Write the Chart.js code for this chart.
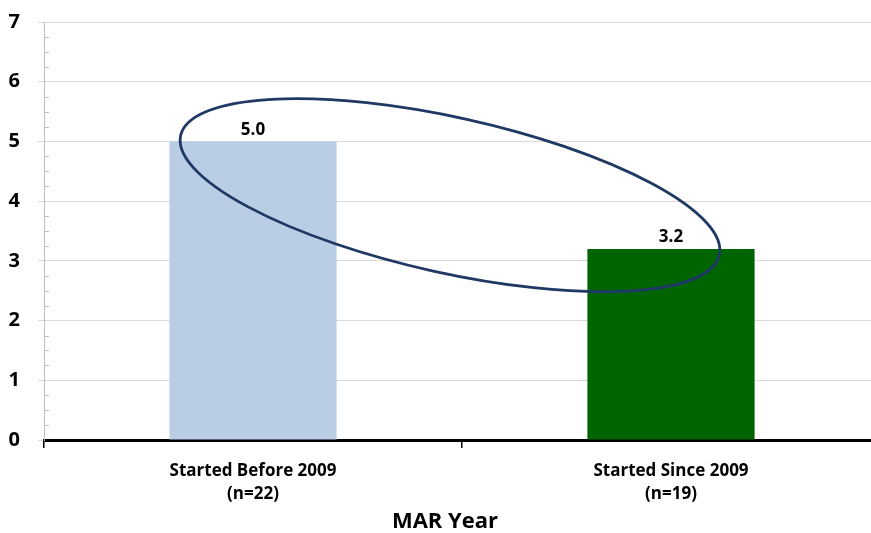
<!DOCTYPE html>
<html>
<head>
<meta charset="utf-8">
<script src="https://cdn.jsdelivr.net/npm/chart.js@4.4.0/dist/chart.umd.min.js"></script>
<style>
  html, body { margin: 0; padding: 0; background: #fff; overflow: hidden; }
  #wrap { width: 871px; height: 533px; overflow: hidden; }
</style>
</head>
<body>
<div id="wrap"><canvas id="myChart" width="880" height="533"></canvas></div>
<script>
// chart values
var categories = [['Started Before 2009', '(n=22)'], ['Started Since 2009', '(n=19)']];
var values = [5.0, 3.2];
var barColors = ['#b9cde5', '#006400'];
var yTicks = [0, 1, 2, 3, 4, 5, 6, 7];
var axisTitle = 'MAR Year';

var fontName = '"Open Sans", Lato, sans-serif';

// small ticks between the y gridlines
const minorTicks = {
  id: 'minorTicks',
  afterDraw(chart) {
    var y = chart.scales.y;
    var ctx = chart.ctx;
    ctx.save();
    ctx.strokeStyle = '#bfbfbf';
    ctx.lineWidth = 1;
    for (var v = 0; v < 7; v++) {
      for (var k = 1; k < 4; k++) {
        var py = Math.round(y.getPixelForValue(v + k / 4)) + 0.5;
        ctx.beginPath();
        ctx.moveTo(y.right, py);
        ctx.lineTo(y.right + 5, py);
        ctx.stroke();
      }
    }
    // axis title, a bit left of the axis centre like the original
    ctx.fillStyle = '#000';
    ctx.font = 'bold 22px ' + fontName;
    ctx.textAlign = 'center';
    ctx.textBaseline = 'middle';
    ctx.fillText(axisTitle, 445, 522);
    ctx.restore();
  }
};

// value labels and the hand-drawn ellipse
const labelsAndRing = {
  id: 'labelsAndRing',
  afterDatasetsDraw(chart) {
    var ctx = chart.ctx;
    var meta = chart.getDatasetMeta(0);
    ctx.save();
    ctx.fillStyle = '#000';
    ctx.font = 'bold 17px ' + fontName;
    ctx.textAlign = 'center';
    ctx.textBaseline = 'bottom';
    meta.data.forEach(function (bar, i) {
      ctx.fillText(values[i].toFixed(1), bar.x, bar.y - 3);
    });

    var xs = chart.scales.x, ys = chart.scales.y;
    var cx = xs.getPixelForValue(0.5);
    var cy = ys.getPixelForValue(4.1);
    var step = xs.getPixelForValue(1) - xs.getPixelForValue(0);
    ctx.strokeStyle = '#1f3864';
    ctx.lineWidth = 2.8;
    ctx.beginPath();
    ctx.ellipse(cx - 12, cy, step * 0.66, step * 0.186, 12.5 * Math.PI / 180, 0, Math.PI * 2);
    ctx.stroke();
    ctx.restore();
  }
};

var ctx = document.getElementById('myChart').getContext('2d');
var myChart = new Chart(ctx, {
  type: 'bar',
  data: {
    labels: categories,
    datasets: [{
      data: values,
      backgroundColor: barColors,
      borderWidth: 0,
      categoryPercentage: 1,
      barPercentage: 0.4
    }]
  },
  options: {
    responsive: false,
    animation: false,
    layout: { padding: { top: 22, left: 0, right: 0, bottom: 0 } },
    plugins: {
      legend: { display: false },
      tooltip: { enabled: false }
    },
    scales: {
      x: {
        grid: {
          drawOnChartArea: false,
          tickLength: 8,
          color: '#000',
          lineWidth: 1.5
        },
        border: { color: '#000', width: 3 },
        ticks: {
          color: '#000',
          padding: 12,
          font: { family: fontName, size: 17, weight: 'bold', lineHeight: 1.35 },
          maxRotation: 0
        },
        afterFit: function (scale) { scale.height = 93; }
      },
      y: {
        min: 0,
        max: 7,
        afterBuildTicks: function (scale) {
          scale.ticks = yTicks.map(function (v) { return { value: v }; });
        },
        grid: { color: '#d9d9d9', tickLength: 6 },
        border: { color: '#bfbfbf', width: 1 },
        ticks: {
          color: '#000',
          padding: 18,
          font: { family: fontName, size: 20, weight: 'bold' }
        },
        afterFit: function (scale) {
          scale.width = 44;
          scale.paddingTop = 0;
          scale.paddingBottom = 0;
        }
      }
    }
  },
  plugins: [minorTicks, labelsAndRing]
});
</script>
</body>
</html>
